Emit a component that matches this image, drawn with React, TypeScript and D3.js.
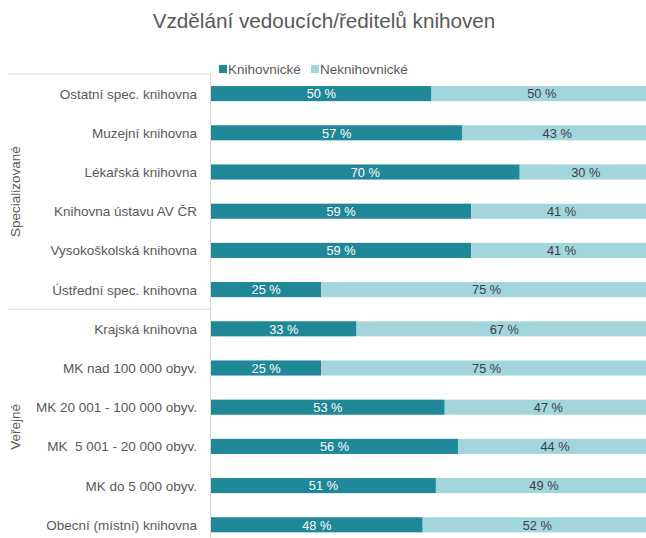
import React from "react";
import * as d3 from "d3";

const categories = [
  "Ostatní spec. knihovna",
  "Muzejní knihovna",
  "Lékařská knihovna",
  "Knihovna ústavu AV ČR",
  "Vysokoškolská knihovna",
  "Ústřední spec. knihovna",
  "Krajská knihovna",
  "MK nad 100 000 obyv.",
  "MK 20 001 - 100 000 obyv.",
  "MK  5 001 - 20 000 obyv.",
  "MK do 5 000 obyv.",
  "Obecní (místní) knihovna",
];
const knihovnicke = [50, 57, 70, 59, 59, 25, 33, 25, 53, 56, 51, 48];
const neknihovnicke = [50, 43, 30, 41, 41, 75, 67, 75, 47, 44, 49, 52];
const groups = [
  { name: "Specializované", from: 0, to: 5 },
  { name: "Veřejné", from: 6, to: 11 },
];
const seriesNames = ["Knihovnické", "Neknihovnické"];

const W = 646;
const H = 538;
const DARK = "#1f8797";
const LIGHT = "#a2d6dc";
const FONT = "'Liberation Sans', Arial, sans-serif";

export default function App() {
  const x = d3.scaleLinear().domain([0, 100]).range([211, 652]);
  const y = d3
    .scaleBand<string>()
    .domain(categories)
    .range([74, 74 + 12 * 39.2])
    .paddingInner(0.615)
    .paddingOuter(0.3075);
  const bw = y.bandwidth();
  const step = y.step();
  const top = 74;
  const sep = top + 6 * step;
  const bottom = top + 12 * step;

  return (
    <svg
      width={W}
      height={H}
      style={{ position: "absolute", left: 0, top: 0, background: "#fff" }}
      fontFamily={FONT}
    >
      <rect width={W} height={H} fill="#fff" />
      <text x={324} y={28} textAnchor="middle" fontSize={20.7} fill="#595959">
        Vzdělání vedoucích/ředitelů knihoven
      </text>

      {/* legend */}
      <g fontSize={13.5} fill="#595959">
        <rect x={219} y={65} width={8} height={8} fill={DARK} />
        <text x={228} y={74}>{seriesNames[0]}</text>
        <rect x={311} y={65} width={8} height={8} fill={LIGHT} />
        <text x={320} y={74}>{seriesNames[1]}</text>
      </g>

      {/* group lines */}
      <g stroke="#d9d9d9" strokeWidth={1}>
        <line x1={8} x2={211} y1={top} y2={top} />
        <line x1={8} x2={211} y1={sep} y2={sep} />
        <line x1={8} x2={211} y1={bottom} y2={bottom} />
        <line x1={210.5} x2={210.5} y1={top} y2={bottom} />
      </g>

      {groups.map((g) => {
        const cy = (top + g.from * step + top + (g.to + 1) * step) / 2;
        return (
          <text
            key={g.name}
            transform={`translate(20,${cy}) rotate(-90)`}
            textAnchor="middle"
            fontSize={13.5}
            fill="#595959"
          >
            {g.name}
          </text>
        );
      })}

      {categories.map((c, i) => {
        const yy = y(c)!;
        const cy = yy + bw / 2;
        const v1 = knihovnicke[i];
        const v2 = neknihovnicke[i];
        return (
          <g key={c}>
            <text
              x={197}
              y={cy + 5}
              textAnchor="end"
              fontSize={13.5}
              fill="#595959"
              style={{ whiteSpace: "pre" }}
            >
              {c}
            </text>
            <rect x={x(0)} y={yy} width={x(v1) - x(0)} height={bw} fill={DARK} />
            <rect x={x(v1)} y={yy} width={x(v1 + v2) - x(v1)} height={bw} fill={LIGHT} />
            <text
              x={(x(0) + x(v1)) / 2}
              y={cy + 4.7}
              textAnchor="middle"
              fontSize={12.8}
              fill="#ffffff"
            >
              {v1} %
            </text>
            <text
              x={(x(v1) + x(v1 + v2)) / 2}
              y={cy + 4.7}
              textAnchor="middle"
              fontSize={12.8}
              fill="#404040"
            >
              {v2} %
            </text>
          </g>
        );
      })}
    </svg>
  );
}
